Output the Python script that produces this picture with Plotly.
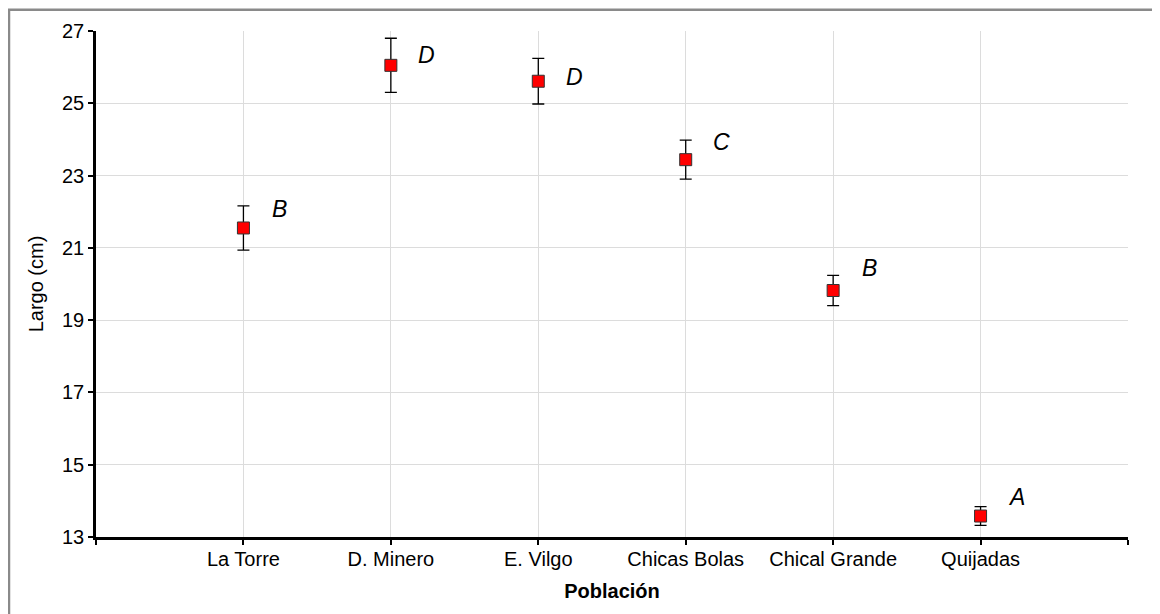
import plotly.graph_objects as go

poblaciones = ["La Torre", "D. Minero", "E. Vilgo", "Chicas Bolas", "Chical Grande", "Quijadas"]
largo_medio = [21.55, 26.05, 25.61, 23.44, 19.82, 13.58]
error_largo = [0.61, 0.75, 0.63, 0.54, 0.42, 0.26]
letras = ["B", "D", "D", "C", "B", "A"]
letras_y = [22.07, 26.34, 25.73, 23.93, 20.44, 14.11]

x_idx = list(range(len(poblaciones)))
FONT = "Liberation Sans, Arial, sans-serif"

fig = go.Figure()
fig.add_trace(go.Scatter(
    x=x_idx, y=largo_medio, mode="markers",
    marker=dict(symbol="square", size=12, color="#ff0000",
                line=dict(color="#333333", width=1)),
    error_y=dict(type="data", array=error_largo, visible=True,
                 color="black", thickness=1.3, width=6),
    showlegend=False,
))

for xi, lt, ly in zip(x_idx, letras, letras_y):
    fig.add_annotation(x=xi, y=ly, text=f"<i>{lt}</i>", showarrow=False,
                       xshift=36, font=dict(family=FONT, size=23, color="black"))

fig.add_shape(type="rect", xref="paper", yref="paper",
              x0=-0.0843, x1=1.0262, y0=-0.2, y1=1.042,
              line=dict(color="#8a8a8a", width=2.5), layer="below")

fig.update_layout(
    width=1152, height=606,
    margin=dict(l=88, r=32, t=23, b=77),
    paper_bgcolor="white", plot_bgcolor="white",
    font=dict(family=FONT, size=20, color="black"),
    xaxis=dict(
        range=[-1, 6],
        tickmode="array",
        tickvals=[-1] + x_idx + [6],
        ticktext=[""] + poblaciones + [""],
        showgrid=True, gridcolor="#dcdcdc", gridwidth=1,
        showline=True, linecolor="black", linewidth=2.5,
        ticks="outside", ticklen=5, tickwidth=2, tickcolor="black",
        tickfont=dict(family=FONT, size=20),
        ticklabelstandoff=-3,
        title=dict(text="<b>Población</b>", font=dict(family=FONT, size=20), standoff=16),
        zeroline=False,
    ),
    yaxis=dict(
        range=[13, 27],
        tickmode="array",
        tickvals=[13, 15, 17, 19, 21, 23, 25, 27],
        showgrid=True, gridcolor="#dcdcdc", gridwidth=1,
        showline=True, linecolor="black", linewidth=2.5,
        ticks="outside", ticklen=5, tickwidth=2, tickcolor="black",
        tickfont=dict(family=FONT, size=20),
        title=dict(text="Largo (cm)", font=dict(family=FONT, size=20), standoff=14),
        zeroline=False,
    ),
)

fig.write_html("out.html")
